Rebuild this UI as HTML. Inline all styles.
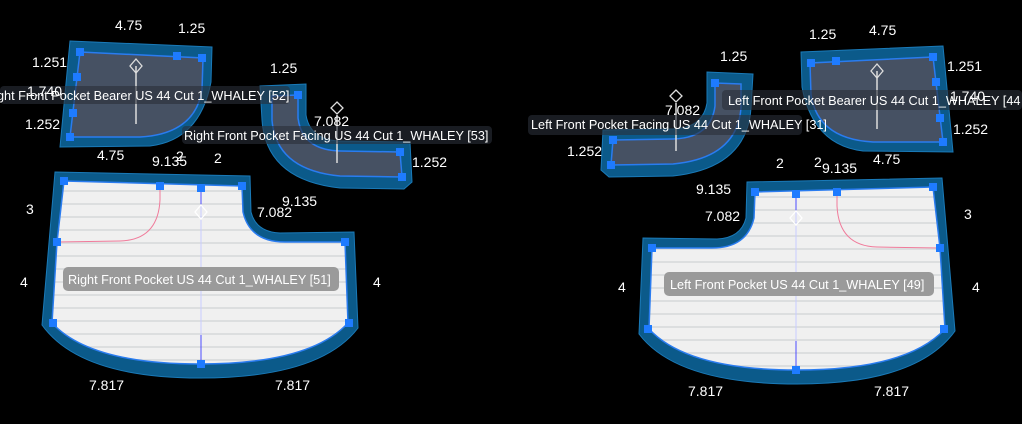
<!DOCTYPE html>
<html><head><style>
body{margin:0;background:#000;width:1022px;height:424px;overflow:hidden}
svg{display:block}
text{font-family:"Liberation Sans",sans-serif;fill:#fff}
.d{font-size:14px}
.l{font-size:12.7px}
</style></head><body>
<svg width="1022" height="424" viewBox="0 0 1022 424">
<defs>
<pattern id="st" width="10" height="13" patternUnits="userSpaceOnUse">
<rect width="10" height="13" fill="#f0f0f0"/><rect y="8" width="10" height="2" fill="#dcdedf"/>
</pattern>
<g id="bearer">
<path d="M70,41 L212,47 L211,82 Q200,140 150,146 L60,147 Z" fill="#0b5a8a" stroke="#1a7ab8" stroke-width="1"/>
<path d="M80,52 L203,58 L202,90 Q195,134 140,137 L70,137 Z" fill="#465163" stroke="#2a7cf0" stroke-width="1.5"/>
<line x1="136" y1="66" x2="136" y2="124" stroke="#ddd" stroke-width="1.5"/>
<path d="M136,59 L142,66 L136,73 L130,66 Z" fill="none" stroke="#ddd" stroke-width="1.3"/>
<g fill="#1e7bff"><rect x="76" y="48" width="8" height="8"/><rect x="173" y="52" width="8" height="8"/><rect x="198" y="54" width="8" height="8"/><rect x="73" y="73" width="8" height="8"/><rect x="69" y="109" width="8" height="8"/><rect x="66" y="133" width="8" height="8"/></g>
</g>
<g id="facing">
<path d="M260,86 L306,84 L306,115 Q310,140 340,141 L410,142 L412,182 L404,189 L340,188 Q266,180 262,120 Z" fill="#0b5a8a" stroke="#1a7ab8"/>
<path d="M272,96 L298,95 L298,118 Q302,150 340,151 L400,152 L402,177 L340,176 Q276,170 272,120 Z" fill="#465163" stroke="#2a7cf0" stroke-width="1.5"/>
<line x1="337" y1="115" x2="337" y2="163" stroke="#ddd" stroke-width="1.5"/>
<path d="M337,102 L343,108 L337,114 L331,108 Z" fill="none" stroke="#ddd" stroke-width="1.3"/>
<g fill="#1e7bff"><rect x="294" y="91" width="8" height="8"/><rect x="396" y="148" width="8" height="8"/><rect x="398" y="173" width="8" height="8"/></g>
</g>
<g id="pocket">
<path d="M55,172 L250,176 L251,212 Q256,232 280,233 L354,232 L358,328 Q320,378 200,378 Q80,378 42,325 Z" fill="#0b5a8a" stroke="#1a7ab8"/>
<path d="M64,181 L242,186 L243,212 Q250,242 285,242 L345,242 L348,323 Q310,364 200,364 Q90,364 52,323 L57,242 Z" fill="url(#st)" stroke="#2a7cf0" stroke-width="1.5"/>
<path d="M160,186 L160,200 Q158,240 120,241 L58,242" fill="none" stroke="#f07a9a" stroke-width="1"/>
<line x1="201" y1="188" x2="201" y2="363" stroke="#c8ccff" stroke-width="1"/>
<line x1="201" y1="188" x2="201" y2="205" stroke="#4b4bff" stroke-width="1"/>
<line x1="201" y1="335" x2="201" y2="363" stroke="#4b4bff" stroke-width="1"/>
<path d="M201,205 L207,212 L201,219 L195,212 Z" fill="none" stroke="#fff" stroke-width="1.3"/>
<g fill="#1e7bff"><rect x="60" y="177" width="8" height="8"/><rect x="156" y="182" width="8" height="8"/><rect x="197" y="184" width="8" height="8"/><rect x="238" y="182" width="8" height="8"/><rect x="53" y="238" width="8" height="8"/><rect x="341" y="238" width="8" height="8"/><rect x="49" y="319" width="8" height="8"/><rect x="345" y="319" width="8" height="8"/><rect x="197" y="360" width="8" height="8"/></g>
</g>
</defs>
<use href="#bearer"/>
<use href="#facing"/>
<use href="#pocket"/>
<g transform="translate(1013,5) scale(-1,1)"><use href="#bearer"/></g>
<g transform="translate(1013,-12) scale(-1,1)"><use href="#facing"/></g>
<g transform="translate(997,6) scale(-1,1)"><use href="#pocket"/></g>

<rect x="0" y="86" width="290" height="18" rx="4" fill="#2a2f38" opacity="0.6"/>
<text class="l" x="-3" y="100">ght Front Pocket Bearer US 44 Cut 1_WHALEY [52]</text>
<rect x="182" y="126" width="310" height="18" rx="4" fill="#2a2f38" opacity="0.6"/>
<text class="l" x="184" y="140">Right Front Pocket Facing US 44 Cut 1_WHALEY [53]</text>
<rect x="63" y="267" width="276" height="24" rx="5" fill="#9a9a9a"/>
<text class="l" x="68" y="284">Right Front Pocket US 44 Cut 1_WHALEY [51]</text>
<rect x="722" y="90" width="300" height="20" rx="4" fill="#2a2f38" opacity="0.6"/>
<text class="l" x="728" y="105">Left Front Pocket Bearer US 44 Cut 1_WHALEY [44</text>
<rect x="528" y="115" width="274" height="20" rx="4" fill="#2a2f38" opacity="0.6"/>
<text class="l" x="531" y="129">Left Front Pocket Facing US 44 Cut 1_WHALEY [31]</text>
<rect x="664" y="272" width="270" height="24" rx="5" fill="#9a9a9a"/>
<text class="l" x="670" y="289">Left Front Pocket US 44 Cut 1_WHALEY [49]</text>

<g class="d">
<text class="d" x="115" y="30">4.75</text><text class="d" x="178" y="33">1.25</text>
<text class="d" x="32" y="67">1.251</text><text class="d" x="27" y="96" fill="#bbb">1.740</text>
<text class="d" x="25" y="129">1.252</text><text class="d" x="97" y="160">4.75</text>
<text class="d" x="270" y="73">1.25</text><text class="d" x="314" y="126">7.082</text>
<text class="d" x="412" y="167">1.252</text>
<text class="d" x="152" y="166">9.135</text><text class="d" x="176" y="161">2</text><text class="d" x="214" y="163">2</text>
<text class="d" x="282" y="206">9.135</text><text class="d" x="257" y="217">7.082</text>
<text class="d" x="26" y="214">3</text><text class="d" x="20" y="287">4</text><text class="d" x="373" y="287">4</text>
<text class="d" x="89" y="390">7.817</text><text class="d" x="275" y="390">7.817</text>
<text class="d" x="809" y="39">1.25</text><text class="d" x="869" y="35">4.75</text>
<text class="d" x="720" y="61">1.25</text><text class="d" x="665" y="115">7.082</text>
<text class="d" x="947" y="71">1.251</text><text class="d" x="950" y="101" fill="#bbb">1.740</text>
<text class="d" x="953" y="134">1.252</text><text class="d" x="567" y="156">1.252</text>
<text class="d" x="873" y="164">4.75</text>
<text class="d" x="776" y="168">2</text><text class="d" x="814" y="167">2</text><text class="d" x="822" y="173">9.135</text>
<text class="d" x="696" y="194">9.135</text><text class="d" x="705" y="221">7.082</text>
<text class="d" x="964" y="219">3</text><text class="d" x="618" y="292">4</text><text class="d" x="972" y="292">4</text>
<text class="d" x="688" y="396">7.817</text><text class="d" x="874" y="396">7.817</text>
</g>
</svg>
</body></html>
